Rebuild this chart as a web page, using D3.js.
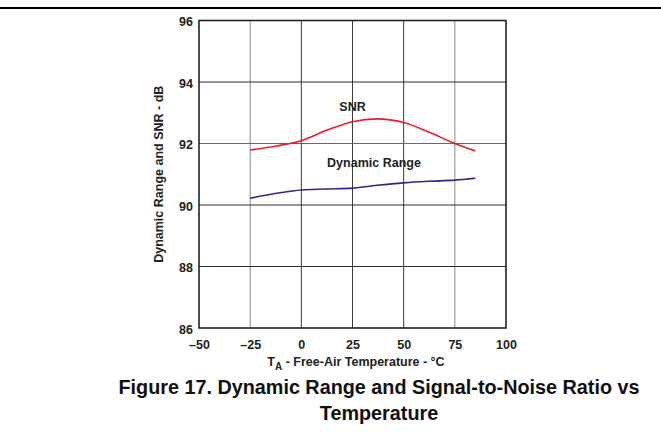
<!DOCTYPE html>
<html>
  <head>
    <script src="https://cdn.jsdelivr.net/npm/d3@7"></script>
    <style>
      body { margin: 0; background: #fff; }
      text { font-family: "Liberation Sans", Arial, sans-serif; font-weight: bold; }
    </style>
  </head>
  <body>
    <script type="text/javascript">

    // Data
    var temps = [-25, -12, 0, 12, 25, 37, 50, 62, 75, 85];
    var snr = [91.79, 91.92, 92.09, 92.42, 92.71, 92.8, 92.68, 92.38, 92.0, 91.76];
    var dynRange = [90.22, 90.38, 90.49, 90.52, 90.55, 90.64, 90.72, 90.77, 90.81, 90.87];
    var xTicks = [-50, -25, 0, 25, 50, 75, 100];
    var yTicks = [86, 88, 90, 92, 94, 96];

    var W = 661, H = 442;
    var margin = {top: 20.5, left: 199};
    var w = 307, h = 307.5;

    var svg = d3.select("body").append("svg")
      .attr("width", W)
      .attr("height", H);

    // Top rule of the page
    svg.append("line")
      .attr("x1", 0).attr("x2", W)
      .attr("y1", 8).attr("y2", 8)
      .attr("stroke", "#000").attr("stroke-width", 2);

    var g = svg.append("g")
      .attr("transform", "translate(" + margin.left + "," + margin.top + ")");

    var x = d3.scaleLinear().domain([-50, 100]).range([0, w]);
    var y = d3.scaleLinear().domain([86, 96]).range([h, 0]);

    // Grid lines
    var grayX = [-25, 75];
    g.selectAll(".vgrid")
      .data(xTicks.slice(1, -1))
      .enter().append("line")
        .attr("x1", d => x(d)).attr("x2", d => x(d))
        .attr("y1", 0).attr("y2", h)
        .attr("stroke", d => grayX.indexOf(d) >= 0 ? "#8a8a8a" : "#3a3a3a")
        .attr("stroke-width", 1);

    g.selectAll(".hgrid")
      .data(yTicks.slice(1, -1))
      .enter().append("line")
        .attr("x1", 0).attr("x2", w)
        .attr("y1", d => y(d)).attr("y2", d => y(d))
        .attr("stroke", d => d == 92 ? "#666" : "#2a2a2a")
        .attr("stroke-width", 1);

    // Frame
    g.append("rect")
      .attr("width", w).attr("height", h)
      .attr("fill", "none")
      .attr("stroke", "#222")
      .attr("stroke-width", 1.6);

    // Axes (labels only)
    var xAxis = d3.axisBottom(x).tickValues(xTicks).tickSize(0).tickPadding(12)
      .tickFormat(d => d < 0 ? "\u2013" + Math.abs(d) : d);
    var yAxis = d3.axisLeft(y).tickValues(yTicks).tickSize(0).tickPadding(6);

    var gx = g.append("g").attr("transform", "translate(0," + h + ")").call(xAxis);
    var gy = g.append("g").call(yAxis);
    [gx, gy].forEach(function(a) {
      a.select(".domain").remove();
      a.selectAll("text")
        .attr("fill", "#222")
        .style("font-size", "12.5px")
        .style("font-family", "'Liberation Sans', Arial, sans-serif")
        .style("font-weight", "bold");
    });
    gy.selectAll("text").attr("dy", "0.4em");

    // Curves
    var line = d3.line()
      .x(d => x(d[0]))
      .y(d => y(d[1]))
      .curve(d3.curveMonotoneX);

    g.append("path")
      .datum(d3.zip(temps, snr))
      .attr("d", line)
      .attr("fill", "none")
      .attr("stroke", "#ee1c25")
      .attr("stroke-width", 1.6);

    g.append("path")
      .datum(d3.zip(temps, dynRange))
      .attr("d", line)
      .attr("fill", "none")
      .attr("stroke", "#2a2a8c")
      .attr("stroke-width", 1.6);

    // Curve labels
    g.append("text")
      .attr("x", x(25)).attr("y", y(93.07))
      .attr("text-anchor", "middle")
      .attr("fill", "#222")
      .style("font-size", "12.5px")
      .text("SNR");

    g.append("text")
      .attr("x", x(35.5)).attr("y", y(91.22))
      .attr("text-anchor", "middle")
      .attr("fill", "#222")
      .style("font-size", "12.5px")
      .text("Dynamic Range");

    // Axis titles
    var xt = svg.append("text")
      .attr("x", 356)
      .attr("y", 366)
      .attr("text-anchor", "middle")
      .attr("fill", "#222")
      .style("font-size", "12.5px");
    xt.append("tspan").text("T");
    xt.append("tspan").attr("dy", 4).style("font-size", "10px").text("A");
    xt.append("tspan").attr("dy", -4).text(" - Free-Air Temperature - \u00b0C");

    svg.append("text")
      .attr("transform", "translate(163," + (margin.top + h / 2) + ")rotate(-90)")
      .attr("text-anchor", "middle")
      .attr("fill", "#222")
      .style("font-size", "12.5px")
      .text("Dynamic Range and SNR - dB");

    // Caption
    svg.append("text")
      .attr("x", 379).attr("y", 394)
      .attr("text-anchor", "middle")
      .attr("fill", "#111")
      .style("font-size", "19.8px")
      .text("Figure 17. Dynamic Range and Signal-to-Noise Ratio vs");

    svg.append("text")
      .attr("x", 379).attr("y", 420)
      .attr("text-anchor", "middle")
      .attr("fill", "#111")
      .style("font-size", "19.8px")
      .text("Temperature");
    </script>
  </body>
</html>
